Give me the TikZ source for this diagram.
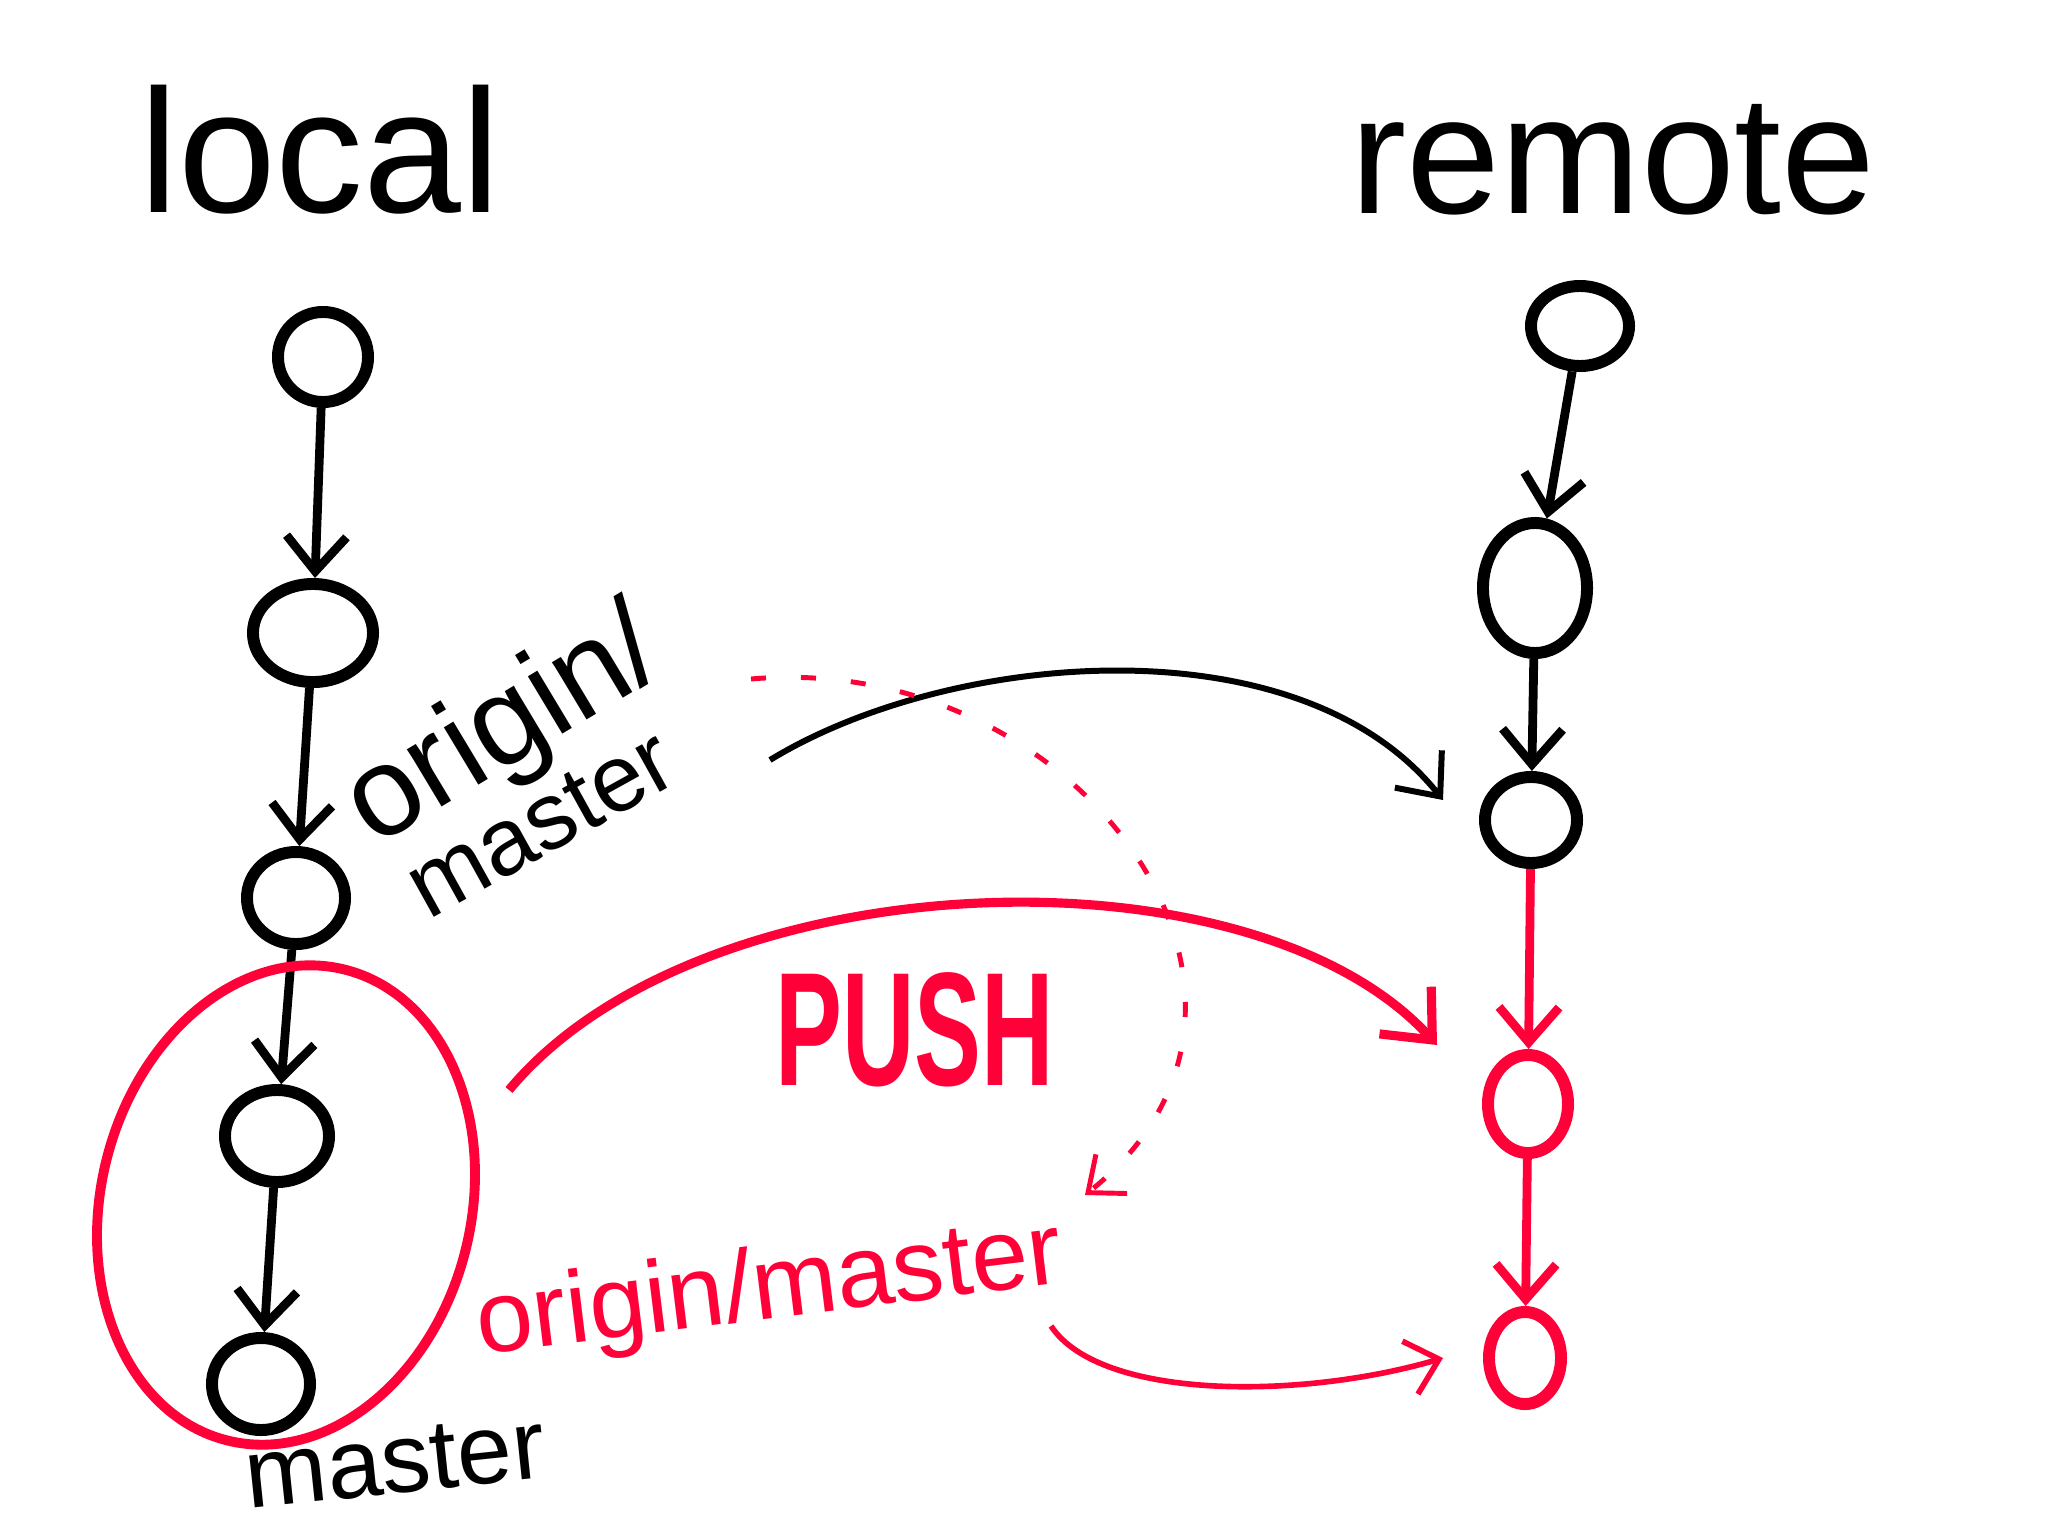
\documentclass[tikz,border=0pt]{standalone}
\usepackage{fontspec}
\setmainfont{Liberation Sans}
\usetikzlibrary{arrows.meta,shapes.geometric}
\definecolor{pen}{RGB}{255,0,56}
\tikzset{
  commit/.style={draw=black, ellipse, line width=3.4pt, inner sep=0pt},
  rcommit/.style={commit, draw=pen},
  link/.style={line width=2.5pt, -{Straight Barb[length=3.5mm,width=6mm]}},
  rlink/.style={link, draw=pen},
  hand/.style={inner sep=0pt},
}
\begin{document}
\begin{tikzpicture}[x=0.01cm,y=-0.01cm]
\useasboundingbox[fill=white] (0,0) rectangle (2048,1536);
% titles
\node[hand, font=\fontsize{50}{60}\selectfont] (tlocal) at (320,150) {local};
\node[hand, font=\fontsize{48}{58}\selectfont] (tremote) at (1613,160) {remote};
% local commits
\node[commit, minimum width=0.9cm, minimum height=0.9cm] (L1) at (323,357) {};
\node[commit, minimum width=1.2cm, minimum height=0.98cm] (L2) at (313,633) {};
\node[commit, minimum width=0.98cm, minimum height=0.92cm] (L3) at (296,898) {};
\node[commit, minimum width=1.04cm, minimum height=0.92cm] (L4) at (277,1136) {};
\node[commit, minimum width=0.98cm, minimum height=0.92cm] (L5) at (261,1384) {};
% remote commits
\node[commit, minimum width=0.98cm, minimum height=0.8cm] (R1) at (1580,326) {};
\node[commit, minimum width=1.04cm, minimum height=1.3cm] (R2) at (1535,588) {};
\node[commit, minimum width=0.92cm, minimum height=0.86cm] (R3) at (1531,820) {};
\node[rcommit, minimum width=0.8cm, minimum height=0.98cm] (R4) at (1528,1104) {};
\node[rcommit, minimum width=0.72cm, minimum height=0.92cm] (R5) at (1525,1358) {};
% chains
\draw[link] (L1) -- (L2);
\draw[link] (L2) -- (L3);
\draw[link] (L3) -- (L4);
\draw[link] (L4) -- (L5);
\draw[link] (R1) -- (R2);
\draw[link] (R2) -- (R3);
\draw[rlink] (R3) -- (R4);
\draw[rlink] (R4) -- (R5);
% red ellipse round the new commits
\node[draw=pen, line width=2.8pt, ellipse, minimum width=3.7cm, minimum height=4.85cm, rotate=-14] (grp) at (286,1205) {};
% origin/master label (black)
\node[hand, anchor=base west, rotate=31, font=\fontsize{36}{40}\selectfont] (om1) at (374,848) {origin/};
\node[hand, anchor=base west, rotate=29, font=\fontsize{27}{30}\selectfont] (om2) at (428,921) {master};
\node[hand, rotate=6, font=\fontsize{28}{34}\selectfont] (lm) at (395,1462) {master};
% old origin/master tracking arrow
\coordinate (oa) at (770,760);
\coordinate (ob) at (1443,800);
\draw[line width=1.7pt, -{Straight Barb[length=3.5mm,width=6mm]}] (oa) .. controls (950,650) and (1300,620) .. (ob);
% dotted move of origin/master
\coordinate (da) at (751,679);
\coordinate (db) at (1085,1195);
\draw[pen, line width=1.4pt, dash pattern=on 0.15cm off 0.35cm, -{Straight Barb[length=3mm,width=5mm]}] (da) .. controls (1080,650) and (1330,1000) .. (db);
% push arrow
\coordinate (pa) at (509,1090);
\coordinate (pb) at (1437,1045);
\draw[pen, line width=2.6pt, -{Straight Barb[length=4mm,width=7mm]}] (pa) .. controls (700,860) and (1250,840) .. (pb);
\node[hand, pen, font=\bfseries\fontsize{46}{52}\selectfont, xscale=0.62] (push) at (915,1030) {PUSH};
% new origin/master (red)
\node[hand, pen, rotate=7, font=\fontsize{29}{34}\selectfont] (rom) at (770,1292) {origin/master};
\coordinate (ra) at (1051,1326);
\coordinate (rb) at (1443,1358);
\draw[pen, line width=1.6pt, -{Straight Barb[length=3mm,width=5.5mm]}] (ra) .. controls (1100,1400) and (1300,1400) .. (rb);
\end{tikzpicture}
\end{document}
